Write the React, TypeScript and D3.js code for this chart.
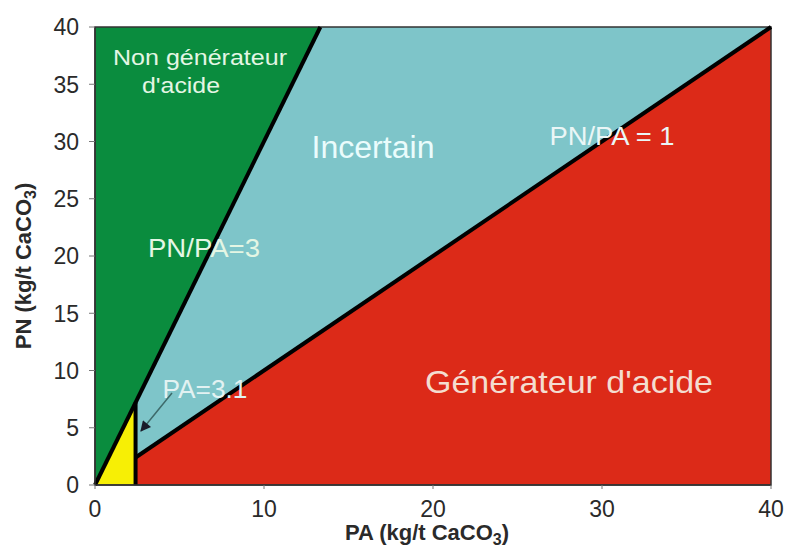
import React from "react";
import * as d3 from "d3";

const xTicks = [0, 10, 20, 30, 40];
const yTicks = [0, 5, 10, 15, 20, 25, 30, 35, 40];
const paLimit = 2.4;
const ratioHigh = 3;
const ratioLow = 1;
const maxVal = 40;

// region polygons in data units
const greenRegion: [number, number][] = [[0, 0], [0, maxVal], [maxVal / ratioHigh, maxVal]];
const blueRegion: [number, number][] = [[paLimit, paLimit * ratioHigh], [maxVal / ratioHigh, maxVal], [maxVal, maxVal], [paLimit, paLimit * ratioLow]];
const redRegion: [number, number][] = [[paLimit, 0], [maxVal, 0], [maxVal, maxVal], [paLimit, paLimit * ratioLow]];
const yellowRegion: [number, number][] = [[0, 0], [paLimit, 0], [paLimit, paLimit * ratioHigh]];

const line3: [number, number][] = [[0, 0], [maxVal / ratioHigh, maxVal]];
const line1: [number, number][] = [[paLimit, paLimit * ratioLow], [maxVal, maxVal]];
const linePA: [number, number][] = [[paLimit, 0], [paLimit, paLimit * ratioHigh]];

const W = 791, H = 549;
const m = { left: 95, right: 20, top: 27, bottom: 64 };

export default function App() {
  const x = d3.scaleLinear().domain([0, 40]).range([m.left, W - m.right]);
  const y = d3.scaleLinear().domain([0, 40]).range([H - m.bottom, m.top]);
  const poly = (pts: [number, number][]) => "M" + pts.map(p => `${x(p[0])},${y(p[1])}`).join("L") + "Z";
  const ln = d3.line<[number, number]>().x(d => x(d[0])).y(d => y(d[1]));
  const font = "'Liberation Sans', Arial, sans-serif";
  return (
    <svg width={W} height={H} style={{ position: "absolute", left: 0, top: 0, background: "#fff" }} fontFamily={font}>
      <defs>
        <marker id="ah" viewBox="0 0 10 10" refX="9" refY="5" markerWidth="9" markerHeight="7" orient="auto" markerUnits="strokeWidth">
          <path d="M0,0L10,5L0,10Z" fill="#1a1a2a" />
        </marker>
      </defs>
      <path d={poly(greenRegion)} fill="#0a8c3e" />
      <path d={poly(blueRegion)} fill="#7ec5c9" />
      <path d={poly(redRegion)} fill="#dc2a18" />
      <path d={poly(yellowRegion)} fill="#f7ef05" />
      <rect x={x(0)} y={y(40)} width={x(40) - x(0)} height={y(0) - y(40)} fill="none" stroke="#333" strokeWidth={1.5} />
      <path d={ln(line3)!} stroke="#000" strokeWidth={4} fill="none" />
      <path d={ln(line1)!} stroke="#000" strokeWidth={4} fill="none" />
      <path d={ln(linePA)!} stroke="#000" strokeWidth={4} fill="none" />
      {/* axes */}
      <line x1={x(0)} x2={x(0)} y1={y(0)} y2={y(40)} stroke="#333" strokeWidth={1.5} />
      <line x1={x(0)} x2={x(40)} y1={y(0)} y2={y(0)} stroke="#333" strokeWidth={1.5} />
      {yTicks.map(t => (
        <g key={"y" + t}>
          <line x1={x(0) - 6} x2={x(0)} y1={y(t)} y2={y(t)} stroke="#777" strokeWidth={1} />
          <text x={x(0) - 16} y={y(t)} dy="0.36em" textAnchor="end" fontSize={23} fill="#2a2a2a">{t}</text>
        </g>
      ))}
      {xTicks.map(t => (
        <g key={"x" + t}>
          <line x1={x(t)} x2={x(t)} y1={y(0)} y2={y(0) + 4} stroke="#777" strokeWidth={1} />
          <text x={x(t)} y={517} textAnchor="middle" fontSize={23} fill="#2a2a2a">{t}</text>
        </g>
      ))}
      <text x={427} y={540} textAnchor="middle" fontSize={22} fontWeight="bold" fill="#2a2a2a">
        PA (kg/t  CaCO<tspan dy="5" fontSize={16}>3</tspan><tspan dy="-5">)</tspan>
      </text>
      <text transform={`translate(31,266) rotate(-90)`} textAnchor="middle" fontSize={22} fontWeight="bold" fill="#2a2a2a">
        PN (kg/t  CaCO<tspan dy="5" fontSize={16}>3</tspan><tspan dy="-5">)</tspan>
      </text>
      {/* region labels */}
      <text x={200} y={65} textAnchor="middle" fontSize={22} textLength={174} lengthAdjust="spacingAndGlyphs" fill="#e4f6e4">Non générateur</text>
      <text x={181} y={93} textAnchor="middle" fontSize={22} textLength={78} lengthAdjust="spacingAndGlyphs" fill="#e4f6e4">d'acide</text>
      <text x={373} y={158} textAnchor="middle" fontSize={31} textLength={123} lengthAdjust="spacingAndGlyphs" fill="#eafcfc">Incertain</text>
      <text x={612} y={145} textAnchor="middle" fontSize={26} textLength={125} lengthAdjust="spacingAndGlyphs" fill="#eaf6f6">PN/PA = 1</text>
      <text x={204} y={257} textAnchor="middle" fontSize={26} textLength={112} lengthAdjust="spacingAndGlyphs" fill="#e4f6e4">PN/PA=3</text>
      <text x={569} y={393} textAnchor="middle" fontSize={32} textLength={288} lengthAdjust="spacingAndGlyphs" fill="#f4ddd0">Générateur d'acide</text>
      <text x={205} y={398} textAnchor="middle" fontSize={25} textLength={85} lengthAdjust="spacingAndGlyphs" fill="#e2f2f2">PA=3.1</text>
      <line x1={172} y1={393} x2={141} y2={431} stroke="#3d6a6a" strokeWidth={1.5} markerEnd="url(#ah)" />
    </svg>
  );
}
